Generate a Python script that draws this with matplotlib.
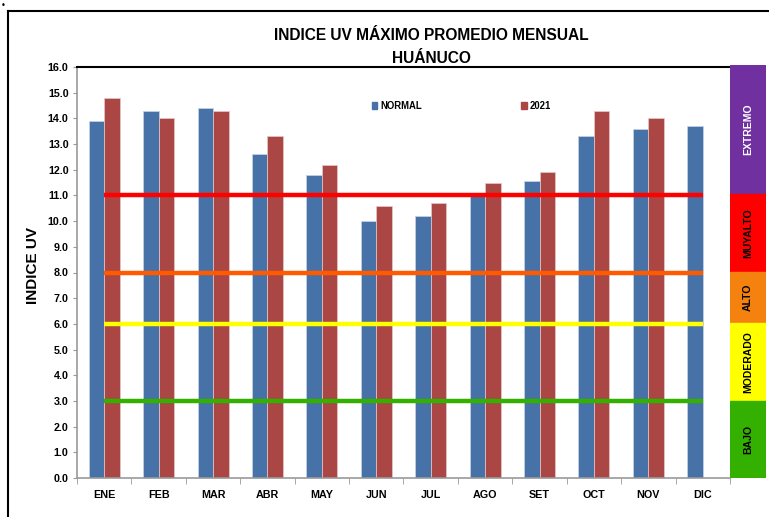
import numpy as np
import matplotlib
matplotlib.use("Agg")
import matplotlib.pyplot as plt
from matplotlib import font_manager
from matplotlib.patches import Patch
from matplotlib.lines import Line2D

# ── data ────────────────────────────────────────────────────────────────────
months = ["ENE", "FEB", "MAR", "ABR", "MAY", "JUN", "JUL", "AGO", "SET", "OCT", "NOV", "DIC"]
normal = [13.9, 14.3, 14.4, 12.6, 11.8, 10.0, 10.2, 11.1, 11.55, 13.3, 13.6, 13.7]
y2021 = [14.8, 14.0, 14.3, 13.3, 12.2, 10.6, 10.7, 11.5, 11.9, 14.3, 14.0, np.nan]

# UV risk thresholds and side band
thresholds = [11, 8, 6, 3]
threshold_colors = ["#FF0000", "#FF5A00", "#FFFF00", "#33B000"]
band_labels = ["EXTREMO", "MUYALTO", "ALTO", "MODERADO", "BAJO"]
band_edges = [(11, 16), (8, 11), (6, 8), (3, 6), (0, 3)]
band_colors = ["#7030A0", "#FF0000", "#F5820F", "#FFFF00", "#33B000"]
band_text = ["white", "black", "black", "black", "black"]


def pick_font(names):
    # first narrow family that is really installed, else Liberation Sans
    for n in names:
        try:
            font_manager.findfont(font_manager.FontProperties(family=n), fallback_to_default=False)
            return n, True
        except ValueError:
            pass
    return "Liberation Sans", False


narrow_name, is_narrow = pick_font(["Liberation Sans Narrow", "Arial Narrow", "DejaVu Sans Condensed"])
NARROW = [narrow_name, "DejaVu Sans"]
k = 1.0 if is_narrow else 0.86   # shrink a normal-width face so texts keep their width

W, H = 769, 517
fig = plt.figure(figsize=(W / 100, H / 100), dpi=100)
ax = fig.add_axes([77 / W, 1 - 478 / H, (730 - 77) / W, (478 - 67) / H])

x = np.arange(len(months))
bw = 0.285
ax.bar(x - bw / 2, normal, bw, color="#4672A8", edgecolor="#C8D4E6", linewidth=0.5, label="NORMAL")
ax.bar(x + bw / 2, y2021, bw, color="#AA4644", edgecolor="#E6C8C8", linewidth=0.5, label="2021")

for t, c in zip(thresholds, threshold_colors):
    ax.plot([x[0], x[-1]], [t, t], color=c, linewidth=3.2, solid_capstyle="butt", zorder=3)

ax.set_xlim(-0.5, len(months) - 0.5)
ax.set_ylim(0, 16)
ax.set_yticks(np.arange(0, 16.1, 1))
ax.set_yticklabels([f"{v:.1f}" for v in np.arange(0, 16.1, 1)], fontsize=9 * k,
                   fontweight="bold", family=NARROW)
ax.set_xticks(x)
ax.set_xticklabels(months, fontsize=9 * k, fontweight="bold", family=NARROW)
ax.set_xticks(np.arange(-0.5, len(months)), minor=True)
ax.tick_params(axis="x", which="major", length=0, pad=9)
ax.tick_params(axis="x", which="minor", length=4, color="#999999", direction="out")
ax.tick_params(axis="y", length=3, color="#999999", direction="out", pad=3)

for s in ["left", "bottom"]:
    ax.spines[s].set_color("#999999")
    ax.spines[s].set_linewidth(1.2)
ax.spines["right"].set_visible(False)
ax.spines["top"].set_color("black")
ax.spines["top"].set_linewidth(1.5)

ax.set_ylabel("INDICE UV", fontsize=11, fontweight="bold", family=["Liberation Sans", "DejaVu Sans"])
ax.yaxis.set_label_coords((40 - 77) / (730 - 77), (478 - 266) / (478 - 67))

handles = [Patch(color="#4672A8"), Patch(color="#AA4644")]
fig.legend(handles, ["NORMAL", "2021"], loc="center left", bbox_to_anchor=(363 / W, 1 - 106 / H),
           ncol=2, frameon=False, handlelength=0.6, handleheight=0.8, handletextpad=0.3,
           columnspacing=10.4, prop={"family": NARROW, "weight": "bold", "size": 8 * k})

# side band with UV risk levels
bx = fig.add_axes([730 / W, 1 - 478 / H, 36 / W, (478 - 65) / H])
bx.set_xlim(0, 1)
bx.set_ylim(0, 16)
for (lo, hi), c, lab, tc in zip(band_edges, band_colors, band_labels, band_text):
    bx.axhspan(lo, hi, color=c)
    bx.text(0.5, (lo + hi) / 2, lab, rotation=90, ha="center", va="center",
            fontsize=7.5, fontweight="bold", color=tc, family=["Liberation Sans", "DejaVu Sans"])
bx.axis("off")

fig.text(431 / W, 1 - 36 / H, "INDICE UV MÁXIMO PROMEDIO MENSUAL", ha="center", va="center",
         fontsize=13 * k, fontweight="bold", family=NARROW)
fig.text(431 / W, 1 - 58 / H, "HUÁNUCO", ha="center", va="center",
         fontsize=13 * k, fontweight="bold", family=NARROW)

# outer frame and stray dot
fig.add_artist(Line2D([8 / W, 1], [1 - 11 / H, 1 - 11 / H], color="black", linewidth=1.5))
fig.add_artist(Line2D([8 / W, 8 / W], [0, 1 - 11 / H], color="black", linewidth=1.5))
fig.text(3 / W, 1 - 6 / H, "•", fontsize=6, ha="center", va="center")

fig.savefig("out.png", dpi=100)
